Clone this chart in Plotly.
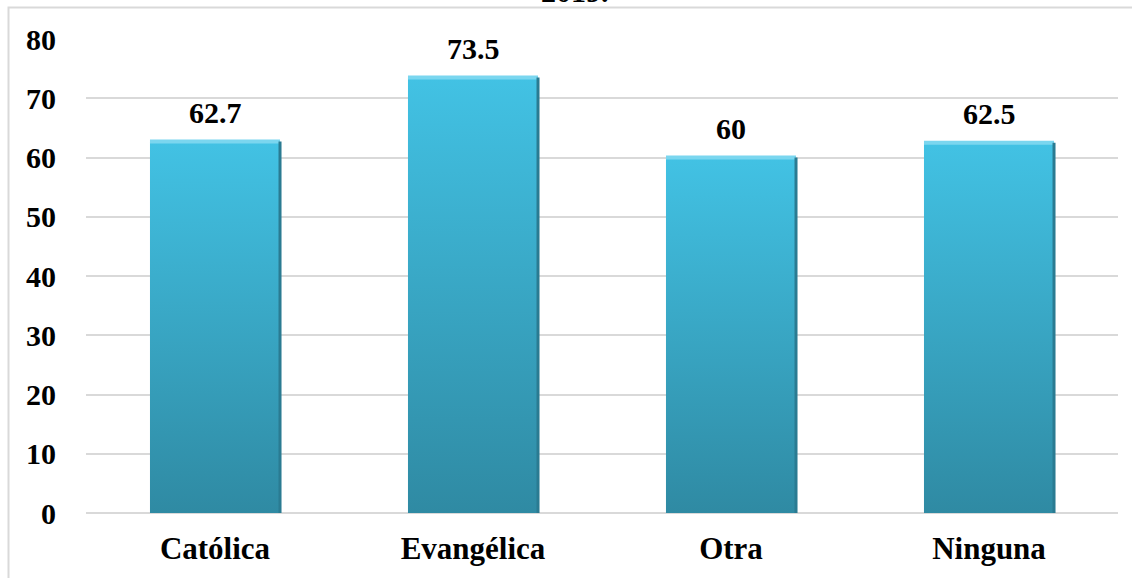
import plotly.graph_objects as go

# Religión: porcentaje por categoría
categorias = ["Católica", "Evangélica", "Otra", "Ninguna"]
valores = [62.7, 73.5, 60, 62.5]
etiquetas = ["62.7", "73.5", "60", "62.5"]
ticks_y = [0, 10, 20, 30, 40, 50, 60, 70, 80]

FONT = "'Times New Roman', 'Liberation Serif', serif"
GRID = "#d9d9d9"
HALF = 0.252  # half bar width in category units

fig = go.Figure()

for i, v in enumerate(valores):
    xs = [i - HALF, i - HALF, i + HALF, i + HALF, i - HALF]
    ys = [0, v, v, 0, 0]
    # bar body with a vertical gradient (light top, darker bottom)
    fig.add_trace(go.Scatter(
        x=xs, y=ys, mode="lines", fill="toself",
        line=dict(width=0, color="rgba(0,0,0,0)"),
        fillgradient=dict(type="vertical",
                          colorscale=[[0, "#2f8aa3"], [1, "#42c2e4"]]),
        hoverinfo="skip", showlegend=False,
    ))
    # bevel highlight on top edge
    fig.add_trace(go.Scatter(
        x=[i - HALF, i + HALF], y=[v, v], mode="lines",
        line=dict(width=4, color="#7ad6ef"),
        hoverinfo="skip", showlegend=False,
    ))
    # darker right edge
    fig.add_trace(go.Scatter(
        x=[i + HALF, i + HALF], y=[0, v], mode="lines",
        line=dict(width=3, color="#2a7b92"),
        hoverinfo="skip", showlegend=False,
    ))

annotations = [
    dict(x=i, y=v, xref="x", yref="y", text=f"<b>{t}</b>", showarrow=False,
         yanchor="bottom", yshift=11, font=dict(family=FONT, size=30, color="black"))
    for i, (v, t) in enumerate(zip(valores, etiquetas))
]
# tail of the title above the frame
annotations.append(dict(
    x=(575 - 86) / 1032, y=1.0, xref="paper", yref="paper", text="<b>2019.</b>",
    showarrow=False, yanchor="bottom", yshift=29,
    font=dict(family=FONT, size=30, color="black"),
))

fig.update_layout(
    width=1132, height=578,
    margin=dict(l=86, r=14, t=39, b=65),
    paper_bgcolor="white", plot_bgcolor="white",
    showlegend=False,
    xaxis=dict(
        range=[-0.5, 3.5], tickmode="array", tickvals=list(range(len(categorias))),
        ticktext=[f"<b>{c}</b>" for c in categorias],
        showgrid=False, zeroline=False, showline=False, ticks="",
        tickfont=dict(family=FONT, size=31, color="black"),
        ticklabelstandoff=14, automargin=False,
    ),
    yaxis=dict(
        range=[0, 80], tickmode="array", tickvals=ticks_y,
        ticktext=[f"<b>{t}</b>" for t in ticks_y],
        showgrid=True, gridcolor=GRID, gridwidth=2,
        zeroline=True, zerolinecolor=GRID, zerolinewidth=2,
        showline=False, ticks="",
        tickfont=dict(family=FONT, size=30, color="black"),
        ticklabelstandoff=29, automargin=False,
    ),
    annotations=annotations,
    shapes=[dict(type="rect", xref="paper", yref="paper",
                 x0=(8.5 - 86) / 1032, x1=1.2,
                 y0=-0.3, y1=(513 - 7.5) / 474,
                 line=dict(color=GRID, width=2), fillcolor="rgba(0,0,0,0)",
                 layer="below")],
)

fig.write_html("out.html")
